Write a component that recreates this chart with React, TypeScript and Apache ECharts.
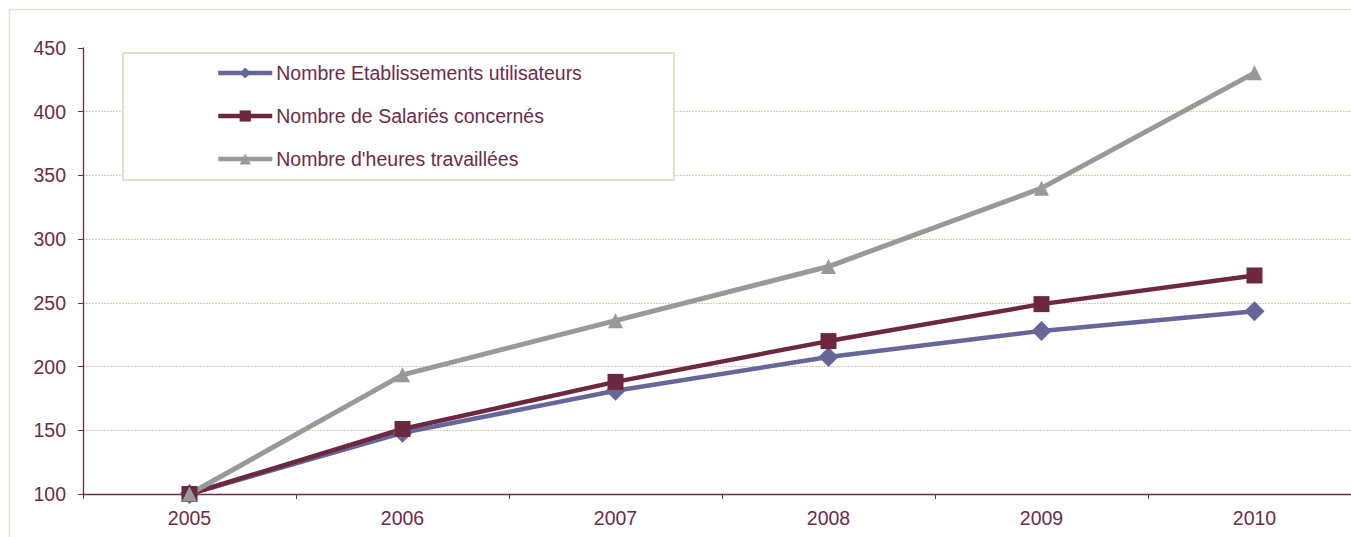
import React, { useEffect, useRef } from "react";
import * as echarts from "echarts";

const years = ["2005", "2006", "2007", "2008", "2009", "2010"];
const etablissements = [100, 148, 181, 207.5, 228, 243.5];
const salaries = [100, 151, 188, 220, 249, 271.5];
const heures = [100, 193.5, 236, 278.5, 340, 430.5];
const seriesNames = [
  "Nombre Etablissements utilisateurs",
  "Nombre de Salariés concernés",
  "Nombre d'heures travaillées",
];

const textColor = "#6E2B47";
const axisColor = "#6B2A45";
const gridColor = "#D9CFA3";
const font = "Arial, 'Liberation Sans', sans-serif";

export default function App() {
  const ref = useRef<HTMLDivElement>(null);
  useEffect(() => {
    if (!ref.current) return;
    const chart = echarts.init(ref.current, undefined, { renderer: "svg" });
    const mk = (name: string, data: number[], color: string, symbol: string, size: number, width: number) => ({
      name,
      type: "line",
      data,
      symbol,
      symbolSize: size,
      showSymbol: true,
      itemStyle: { color, opacity: 1 },
      lineStyle: { color, width },
      emphasis: { disabled: true },
    });
    chart.setOption({
      animation: false,
      textStyle: { fontFamily: font },
      graphic: [
        {
          type: "rect",
          shape: { x: 9.5, y: 9.5, width: 1500, height: 700 },
          style: { fill: "none", stroke: "#E6E0CC", lineWidth: 1.5 },
          silent: true,
          z: -10,
        },
      ],
      legend: {
        orient: "vertical",
        left: 123,
        top: 53,
        padding: [10, 92, 11, 93],
        itemGap: 23,
        itemWidth: 54,
        itemHeight: 14,
        backgroundColor: "#ffffff",
        borderColor: "#DDD5B8",
        borderWidth: 1.5,
        lineStyle: { width: 4.5 },
        textStyle: { color: textColor, fontSize: 19.5, fontFamily: font, padding: [0, 0, 0, -1] },
        data: seriesNames,
      },
      grid: { left: 83, right: 1, top: 48, bottom: 43, containLabel: false },
      xAxis: {
        type: "category",
        data: years,
        boundaryGap: true,
        axisLine: { show: true, lineStyle: { color: axisColor, width: 1.3 } },
        axisTick: { show: true, length: 5, lineStyle: { color: axisColor } },
        axisLabel: { color: textColor, fontSize: 19.5, margin: 14, fontFamily: font },
        splitLine: { show: false },
      },
      yAxis: {
        type: "value",
        min: 100,
        max: 450,
        interval: 50,
        axisLine: { show: true, lineStyle: { color: axisColor, width: 1.3 } },
        axisTick: { show: true, length: 5, lineStyle: { color: axisColor } },
        axisLabel: { color: textColor, fontSize: 19.5, margin: 17, fontFamily: font },
        splitLine: {
          show: true,
          showMaxLine: false,
          lineStyle: { color: gridColor, type: [2, 1], width: 1 },
        },
      },
      series: [
        mk(seriesNames[0], etablissements, "#666699", "diamond", 20, 4.5),
        mk(seriesNames[1], salaries, "#6C2840", "rect", 16, 4.5),
        mk(seriesNames[2], heures, "#999999", "triangle", 15, 5),
      ],
    });
    return () => chart.dispose();
  }, []);
  return (
    <div style={{ position: "fixed", left: 0, top: 0, width: 1351, height: 537, overflow: "hidden", background: "#fff" }}>
      <div ref={ref} style={{ width: 1362, height: 537 }} />
    </div>
  );
}
